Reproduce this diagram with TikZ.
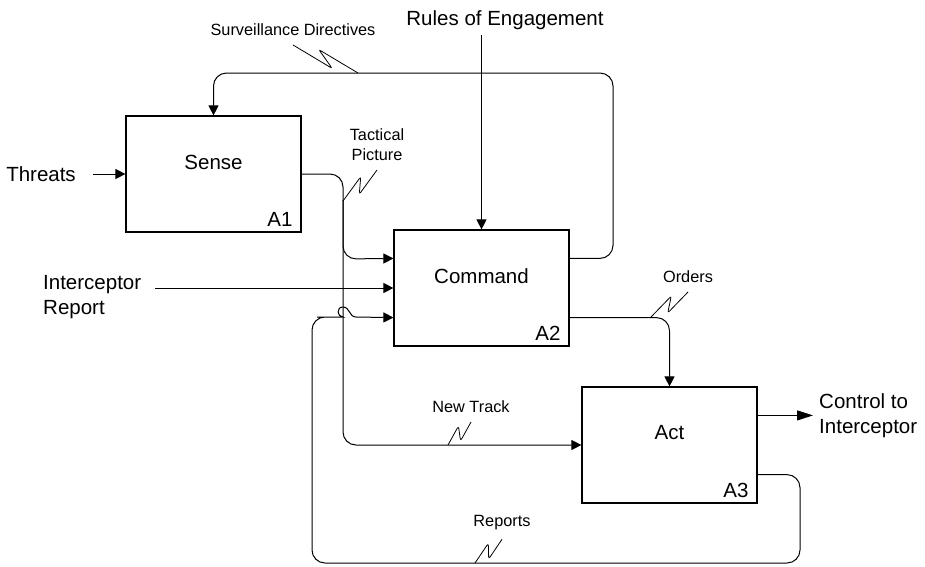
\documentclass[tikz,border=0pt]{standalone}
\usepackage{fontspec}
\setmainfont{Liberation Sans}
\usetikzlibrary{arrows.meta, calc}

\begin{document}
\begin{tikzpicture}[x=1pt, y=-1pt,
    every node/.style={font=\fontsize{20.5}{25}\selectfont, inner sep=3pt},
    fn/.style={draw, line width=1.2pt, minimum width=175pt, minimum height=116pt},
    fnno/.style={anchor=south east, inner xsep=9pt, inner ysep=6pt},
    small/.style={font=\fontsize{16.3}{20}\selectfont, align=center, outer sep=6pt},
    arr/.style={line width=1pt, -{Triangle[length=10pt, width=10pt]}},
    bigarr/.style={line width=1pt, -{Triangle[length=16pt, width=10pt]}},
    link/.style={arr, rounded corners=13pt},
    squiggle/.style={line width=.8pt, rounded corners=2.5pt,
        to path={-- ($(\tikztostart)!.64!(\tikztotarget)!6pt!#1:(\tikztotarget)$)
            -- ($(\tikztostart)!.36!(\tikztotarget)!-6pt!#1:(\tikztotarget)$)
            -- (\tikztotarget)}}]

    \useasboundingbox (0,0) rectangle (925,566);

    \node [fn] (sense) at (213.5,174) {};
    \node [fn] (command) at (481.5,288) {};
    \node [fn] (act) at (669.5,445) {};

    \node (sensename) at ([yshift=12pt]sense.center) {Sense};
    \node (commandname) at ([yshift=12pt]command.center) {Command};
    \node (actname) at ([yshift=12pt]act.center) {Act};

    \node [fnno] (senseno) at (sense.south east) {A1};
    \node [fnno] (commandno) at (command.south east) {A2};
    \node [fnno] (actno) at (act.south east) {A3};

    \node (threats) at (41,174) {Threats};
    \node [align=left, anchor=west] (intrep) at (40,297.5) {Interceptor\\Report};
    \node (rules) at (505,20.5) {Rules of Engagement};
    \node [align=left, anchor=west] (control) at (816,416) {Control to\\Interceptor};

    \node [small] (survdir) at (293,30) {Surveillance Directives};
    \node [small] (tacpic) at (377,145) {Tactical\\Picture};
    \node [small] (orders) at (688,277) {Orders};
    \node [small] (newtrack) at (471,407) {New Track};
    \node [small] (reports) at (502,523) {Reports};

    \draw [arr, shorten <=14pt] (threats) -- (sense);
    \draw [arr, shorten <=11pt] (intrep.east |- command.west) -- (command.west);
    \draw [arr, shorten <=2pt] (rules.south -| command.north) -- (command.north);

    \draw [link] ([yshift=-29pt]command.north east) -| (613,73) -| (sense.north);
    \draw [link] (sense.east) -| (343,259) -- ([yshift=-29pt]command.north west);
    \draw [link] (343,200) -- (343,445) -- (act.west);
    \draw [link] ([yshift=29pt]command.south east) -| (act.north);
    \draw [link] ([yshift=29pt]act.south east) -| (800,563) -| (312,317) -- (330,317)
        [sharp corners] .. controls (337,317) and (336,307) .. (343,307)
        .. controls (350,307) and (349,317) .. (356,317) -- ([yshift=29pt]command.south west);
    \draw [bigarr, shorten >=3pt] ([yshift=-29pt]act.north east) coordinate (actout)
        -- (actout -| control.west);

    \draw [squiggle=-90] (survdir.south) to (358,73);
    \draw [squiggle=90] (tacpic.south) to (343,201);
    \draw [squiggle=90] (orders.south) to (651,317);
    \draw [squiggle=90] (newtrack.south) to (448,445);
    \draw [squiggle=90] (reports.south) to (475,563);

\end{tikzpicture}
\end{document}
